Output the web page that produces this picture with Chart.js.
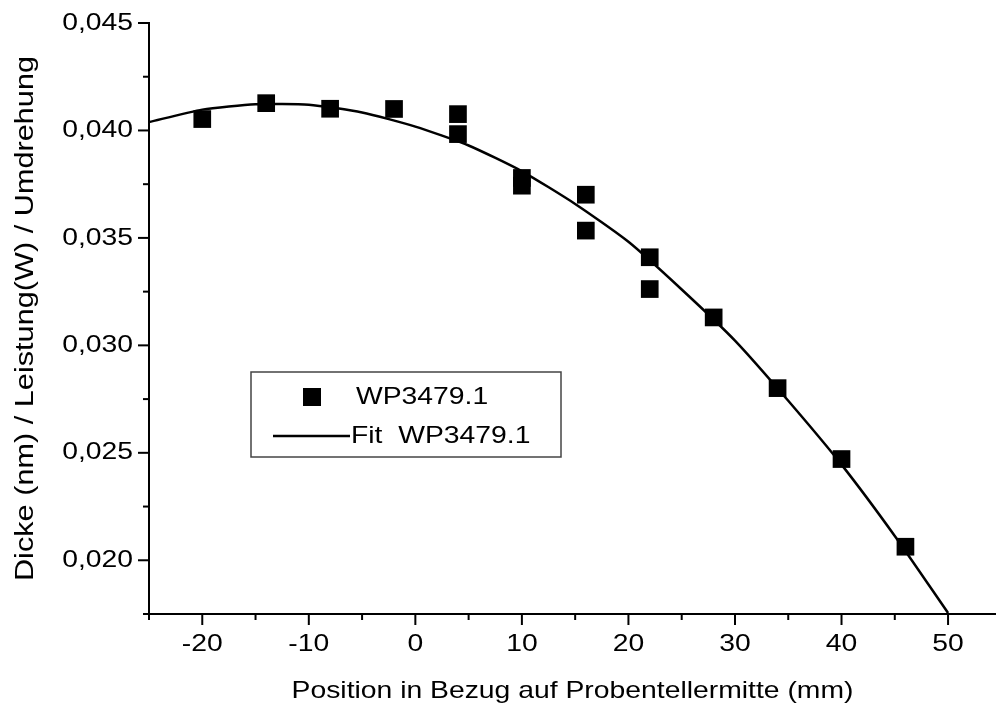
<!DOCTYPE html>
<html>
<head>
<meta charset="utf-8">
<script src="https://cdn.jsdelivr.net/npm/chart.js@4/dist/chart.umd.min.js"></script>
<style>
  html, body { margin: 0; padding: 0; background: #fff; }
  #wrap { width: 996px; height: 708px; }
</style>
</head>
<body>
<div id="wrap"><canvas id="myChart"></canvas></div>
<script>
// measured points
var posMm = [-20, -14, -8, -2, 4, 4, 10, 10, 16, 16, 22, 22, 28, 34, 40, 46];
var dicke = [0.04053, 0.04127, 0.04101, 0.04100, 0.04076, 0.03983, 0.03779, 0.03743,
             0.03701, 0.03534, 0.03410, 0.03262, 0.03130, 0.02801, 0.02471, 0.02063];

// fit curve
var fitX = [-25, -20, -15, -10, -5, 0, 5, 10, 15, 20, 25, 30, 35, 40, 45, 50];
var fitY = [0.04039, 0.04097, 0.04122, 0.04120, 0.04084, 0.04018, 0.03930, 0.03810,
            0.03658, 0.03482, 0.03260, 0.03022, 0.02742, 0.02445, 0.02113, 0.01755];

var seriesNames = ['WP3479.1', 'Fit  WP3479.1'];
var xTitle = 'Position in Bezug auf Probentellermitte (mm)';
var yTitle = 'Dicke (nm) / Leistung(W) / Umdrehung';

var fontFamily = '"Liberation Sans", Arial, sans-serif';
var textStretch = 1.18; // the original text is set a bit wide

function toXY(xs, ys) {
    return xs.map(function (x, i) { return { x: x, y: ys[i] }; });
}

function isMultiple(v, step) {
    var r = v / step;
    return Math.abs(r - Math.round(r)) < 1e-6;
}

var element = document.getElementById('myChart').getContext('2d');

// widen all text drawn on this context (measure + fill)
var baseFill = CanvasRenderingContext2D.prototype.fillText;
var baseMeasure = CanvasRenderingContext2D.prototype.measureText;
element.fillText = function (text, x, y) {
    this.save();
    this.translate(x, y);
    this.scale(textStretch, 1);
    baseFill.call(this, text, 0, 0);
    this.restore();
};
element.measureText = function (text) {
    var m = baseMeasure.call(this, text);
    return {
        width: m.width * textStretch,
        actualBoundingBoxAscent: m.actualBoundingBoxAscent,
        actualBoundingBoxDescent: m.actualBoundingBoxDescent,
        actualBoundingBoxLeft: m.actualBoundingBoxLeft * textStretch,
        actualBoundingBoxRight: m.actualBoundingBoxRight * textStretch
    };
};

// outward major/minor ticks
var tickPlugin = {
    id: 'ticks',
    afterDraw: function (chart) {
        var ctx = chart.ctx, ca = chart.chartArea;
        ctx.save();
        ctx.strokeStyle = '#000';
        ctx.lineWidth = 2;
        chart.scales.x.ticks.forEach(function (t) {
            var p = chart.scales.x.getPixelForValue(t.value);
            var len = isMultiple(t.value, 10) ? 11 : 6;
            ctx.beginPath();
            ctx.moveTo(p, ca.bottom);
            ctx.lineTo(p, ca.bottom + len);
            ctx.stroke();
        });
        chart.scales.y.ticks.forEach(function (t) {
            var p = chart.scales.y.getPixelForValue(t.value);
            var len = isMultiple(t.value, 0.005) ? 11 : 6;
            ctx.beginPath();
            ctx.moveTo(ca.left, p);
            ctx.lineTo(ca.left - len, p);
            ctx.stroke();
        });
        ctx.restore();
    }
};

// boxed legend inside the plot
var legendPlugin = {
    id: 'boxLegend',
    afterDraw: function (chart) {
        var ctx = chart.ctx, ca = chart.chartArea;
        var left = ca.left + 102, top = ca.top + 349;
        var w = 310, h = 85;
        ctx.save();
        ctx.fillStyle = '#fff';
        ctx.fillRect(left, top, w, h);
        ctx.strokeStyle = '#444';
        ctx.lineWidth = 1.5;
        ctx.strokeRect(left, top, w, h);

        var ds = chart.data.datasets;
        var row1 = top + 25, row2 = top + 64;
        ctx.fillStyle = '#000';
        ctx.fillRect(left + 52, row1 - 9, 18, 18);
        ctx.strokeStyle = '#000';
        ctx.lineWidth = 2.5;
        ctx.beginPath();
        ctx.moveTo(left + 22, row2);
        ctx.lineTo(left + 99, row2);
        ctx.stroke();

        ctx.font = '24px ' + fontFamily;
        ctx.textBaseline = 'middle';
        ctx.textAlign = 'left';
        ctx.fillText(ds[0].label, left + 105, row1);
        ctx.fillText(ds[1].label, left + 100, row2);
        ctx.restore();
    }
};

var chartData = {
    datasets: [{
        type: 'scatter',
        label: seriesNames[0],
        data: toXY(posMm, dicke),
        pointStyle: 'rect',
        pointRadius: 12.5,
        pointHoverRadius: 12.5,
        borderWidth: 0,
        backgroundColor: '#000',
        borderColor: '#000'
    }, {
        type: 'line',
        label: seriesNames[1],
        data: toXY(fitX, fitY),
        borderColor: '#000',
        borderWidth: 2.5,
        pointRadius: 0,
        tension: 0.2,
        fill: false
    }]
};

var chartOptions = {
    responsive: true,
    maintainAspectRatio: false,
    animation: false,
    devicePixelRatio: 1,
    layout: { autoPadding: false, padding: { left: 0, right: 0, top: 23, bottom: 0 } },
    plugins: {
        legend: { display: false },
        tooltip: { enabled: false }
    },
    scales: {
        x: {
            type: 'linear',
            min: -25,
            max: 54.5,
            border: { display: true, color: '#000', width: 2 },
            grid: { drawOnChartArea: false, drawTicks: true, tickLength: 11, tickColor: 'rgba(0,0,0,0)' },
            ticks: {
                stepSize: 5,
                includeBounds: false,
                autoSkip: false,
                maxRotation: 0,
                padding: 5,
                color: '#000',
                font: { family: fontFamily, size: 24 },
                callback: function (v) { return isMultiple(v, 10) ? String(Math.round(v)) : ''; }
            },
            title: {
                display: true,
                text: xTitle,
                color: '#000',
                font: { family: fontFamily, size: 24 },
                padding: { top: 0, bottom: 2 }
            },
            afterFit: function (scale) {
                scale.height = 94;
                scale.paddingLeft = 0;
                scale.paddingRight = 0;
            }
        },
        y: {
            type: 'linear',
            min: 0.0175,
            max: 0.045,
            border: { display: true, color: '#000', width: 2 },
            grid: { drawOnChartArea: false, drawTicks: true, tickLength: 11, tickColor: 'rgba(0,0,0,0)' },
            ticks: {
                stepSize: 0.0025,
                includeBounds: false,
                autoSkip: false,
                padding: 5,
                color: '#000',
                font: { family: fontFamily, size: 24 },
                callback: function (v) { return isMultiple(v, 0.005) ? v.toFixed(3).replace('.', ',') : ''; }
            },
            title: {
                display: true,
                text: yTitle,
                color: '#000',
                font: { family: fontFamily, size: 26 },
                padding: { top: 10, bottom: 0 }
            },
            afterFit: function (scale) {
                scale.width = 149;
                scale.paddingTop = 0;
                scale.paddingBottom = 0;
            }
        }
    }
};

var chart = new Chart(element, { data: chartData, options: chartOptions, plugins: [tickPlugin, legendPlugin] });
</script>
</body>
</html>
